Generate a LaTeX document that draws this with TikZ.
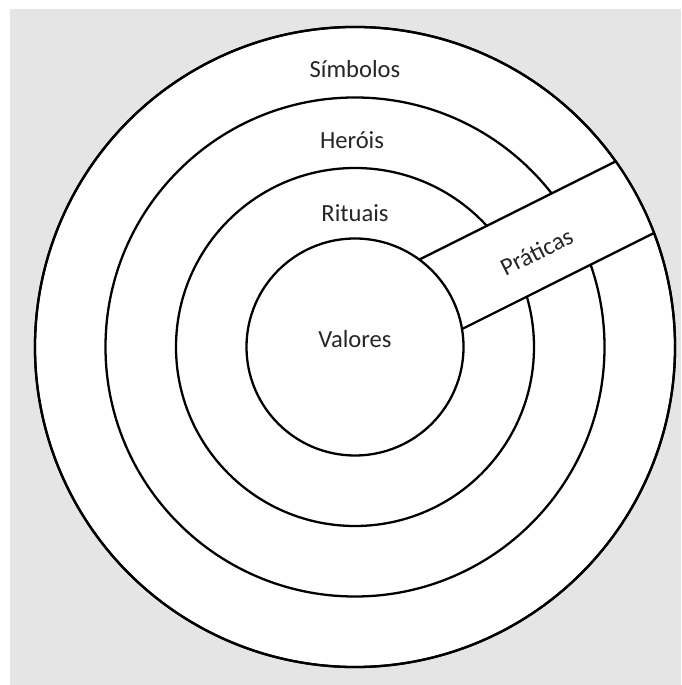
\documentclass[tikz,border=0pt]{standalone}
\usepackage{fontspec}
\setmainfont{Carlito}
\usetikzlibrary{calc}

\begin{document}
\begin{tikzpicture}[
  ring/.style ={draw, circle, line width=0.65pt, inner sep=0pt, fill=white},
  bandln/.style={line width=0.65pt},
  lbl/.style  ={inner sep=1pt, text=black!85, font=\fontsize{7}{8.4}\selectfont},
]

% ============================ page and backdrop =============================
\path[fill=white, use as bounding box] (-3.55,3.47) rectangle (3.26,-3.38);
\fill[gray!20] (-3.45,3.38) rectangle (3.26,-3.38);

% ============================ the rings =====================================
\node[ring, minimum size=6.40cm] (simb) at (0,0) {};
\node[ring, minimum size=4.99cm] (hero) at (0,0) {};
\node[ring, minimum size=3.58cm] (ritu) at (0,0) {};

% the practices band cuts through the outer rings
\begin{scope}[rotate=26.57]
  \begin{scope}
    \clip (0,0) circle (3.20);
    \fill[white] (0,-0.318) rectangle (3.5,0.494);
  \end{scope}
  \draw[bandln] (0,0) circle (3.20);
\end{scope}

\node[ring, minimum size=2.17cm] (valo) at (0,0) {};

\begin{scope}[rotate=26.57]
  \coordinate (ui) at ({sqrt(1.085^2-0.494^2)},0.494);
  \coordinate (uo) at ({sqrt(3.20^2-0.494^2)},0.494);
  \coordinate (li) at ({sqrt(1.085^2-0.318^2)},-0.318);
  \coordinate (lo) at ({sqrt(3.20^2-0.318^2)},-0.318);
  \draw[bandln] (ui) -- (uo);
  \draw[bandln] (li) -- (lo);
  \node[lbl, rotate=26.57] (prat) at (2.05,0.04) {Práticas};
\end{scope}

% ============================ labels ========================================
\node[lbl] (tsimb) at (0,2.78) {Símbolos};
\node[lbl] (thero) at (-0.03,2.07) {Heróis};
\node[lbl] (tritu) at (0,1.34) {Rituais};
\node[lbl] (tvalo) at (0,0.08) {Valores};

\end{tikzpicture}
\end{document}
